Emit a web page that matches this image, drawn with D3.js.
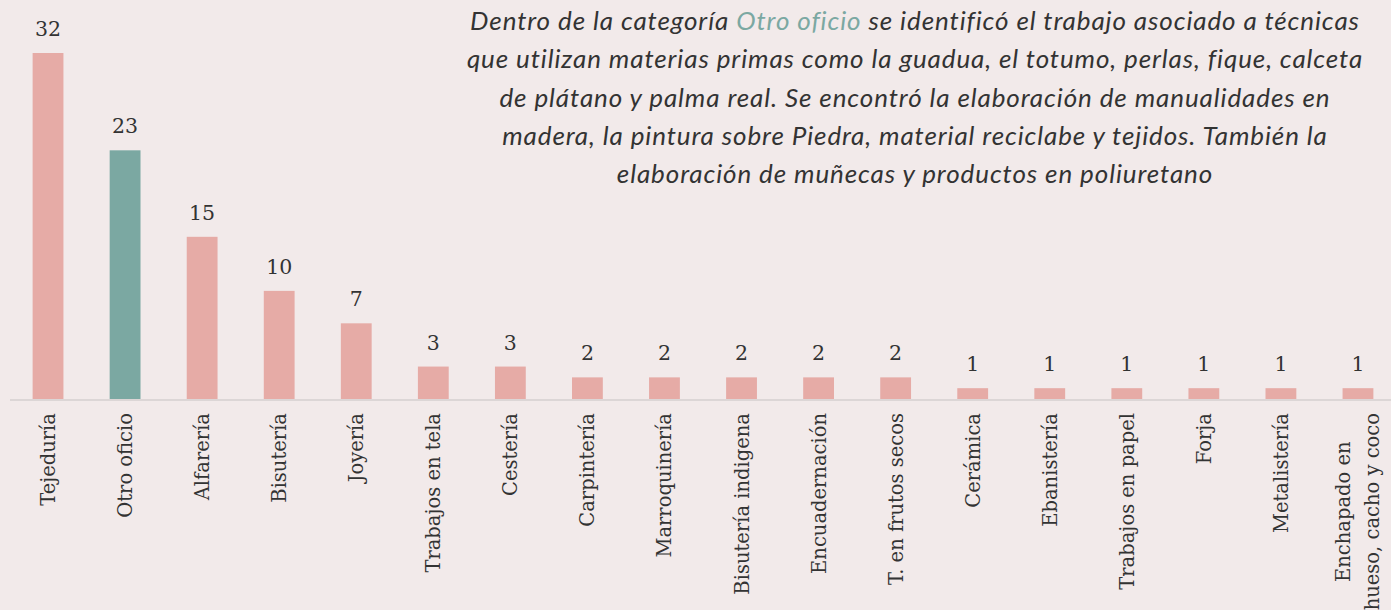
<!DOCTYPE html>
<html>
<head>
<meta charset="utf-8">
<script src="https://cdn.jsdelivr.net/npm/d3@7"></script>
<style>
  body { margin: 0; background: #f2eaea; }
  svg { display: block; }
</style>
</head>
<body>
<script>
// data
var categories = ["Tejeduría", "Otro oficio", "Alfarería", "Bisutería", "Joyería",
  "Trabajos en tela", "Cestería", "Carpintería", "Marroquinería", "Bisutería indigena",
  "Encuadernación", "T. en frutos secos", "Cerámica", "Ebanistería", "Trabajos en papel",
  "Forja", "Metalistería", "Enchapado en\nhueso, cacho y coco"];
var values = [32, 23, 15, 10, 7, 3, 3, 2, 2, 2, 2, 2, 1, 1, 1, 1, 1, 1];
var highlight = "Otro oficio";
var noteLines = [
  "Dentro de la categoría |Otro oficio| se identificó el trabajo asociado a técnicas",
  "que utilizan materias primas como la guadua, el totumo, perlas, fique, calceta",
  "de plátano y palma real. Se encontró la elaboración de manualidades en",
  "madera, la pintura sobre Piedra, material reciclabe y tejidos. También la",
  "elaboración de muñecas y productos en poliuretano"
];

var w = 1391, h = 610;
var baseY = 399;

var svg = d3.select("body").append("svg")
  .attr("width", w)
  .attr("height", h)
  .style("background", "#f2eaea");

var x = d3.scaleBand()
  .domain(categories)
  .range([9.5, 1396.5])
  .paddingInner(0.6)
  .paddingOuter(0.3);

var y = d3.scaleLinear()
  .domain([0, 32])
  .range([baseY, 53]);

// baseline
svg.append("line")
  .attr("x1", 10).attr("x2", w)
  .attr("y1", baseY + 1).attr("y2", baseY + 1)
  .attr("stroke", "#dcd6d6")
  .attr("stroke-width", 2);

svg.selectAll("rect.bar")
  .data(values)
  .enter()
  .append("rect")
  .attr("class", "bar")
  .attr("x", function(d, i) { return x(categories[i]); })
  .attr("y", function(d) { return y(d); })
  .attr("width", x.bandwidth())
  .attr("height", function(d) { return baseY - y(d); })
  .attr("fill", function(d, i) {
    return categories[i] == highlight ? "#7ba8a2" : "#e6aba6";
  });

// value labels
svg.selectAll("text.val")
  .data(values)
  .enter()
  .append("text")
  .attr("class", "val")
  .text(function(d) { return d; })
  .attr("x", function(d, i) { return x(categories[i]) + x.bandwidth() / 2; })
  .attr("y", function(d) { return y(d) - 17; })
  .attr("text-anchor", "middle")
  .attr("font-family", "'DejaVu Serif', serif")
  .attr("font-size", "20.5px")
  .attr("fill", "#333");

// category labels, rotated
var labels = svg.selectAll("g.lab")
  .data(categories)
  .enter()
  .append("g")
  .attr("class", "lab")
  .attr("transform", function(d) {
    return "translate(" + (x(d) + x.bandwidth() / 2) + "," + (baseY + 14) + ") rotate(-90)";
  });

labels.each(function(d) {
  var parts = d.split("\n");
  var g = d3.select(this);
  var texts = parts.map(function(p, k) {
    var off = (k - (parts.length - 1) / 2) * 29;
    return g.append("text")
      .text(p)
      .attr("x", 0)
      .attr("y", off + 7)
      .attr("text-anchor", "end")
      .attr("font-family", "'DejaVu Serif', serif")
      .attr("font-size", "19.5px")
      .attr("fill", "#333");
  });
  // multi-line labels are centred on the longest line
  if (texts.length > 1) {
    var lens = texts.map(function(t) { return t.node().getComputedTextLength(); });
    var mx = d3.max(lens);
    texts.forEach(function(t) {
      t.attr("text-anchor", "middle").attr("x", -mx / 2);
    });
  }
});

// note text
var note = svg.append("g");
noteLines.forEach(function(line, i) {
  var t = note.append("text")
    .attr("x", 915)
    .attr("y", 30 + i * 38.3)
    .attr("text-anchor", "middle")
    .attr("font-family", "Lato, sans-serif")
    .attr("font-style", "italic")
    .attr("font-size", "26px")
    .attr("letter-spacing", "0.9px")
    .attr("fill", "#333");
  line.split("|").forEach(function(seg, k) {
    t.append("tspan")
      .text(seg)
      .attr("fill", k % 2 == 1 ? "#7ba8a2" : "#333");
  });
});
</script>
</body>
</html>
